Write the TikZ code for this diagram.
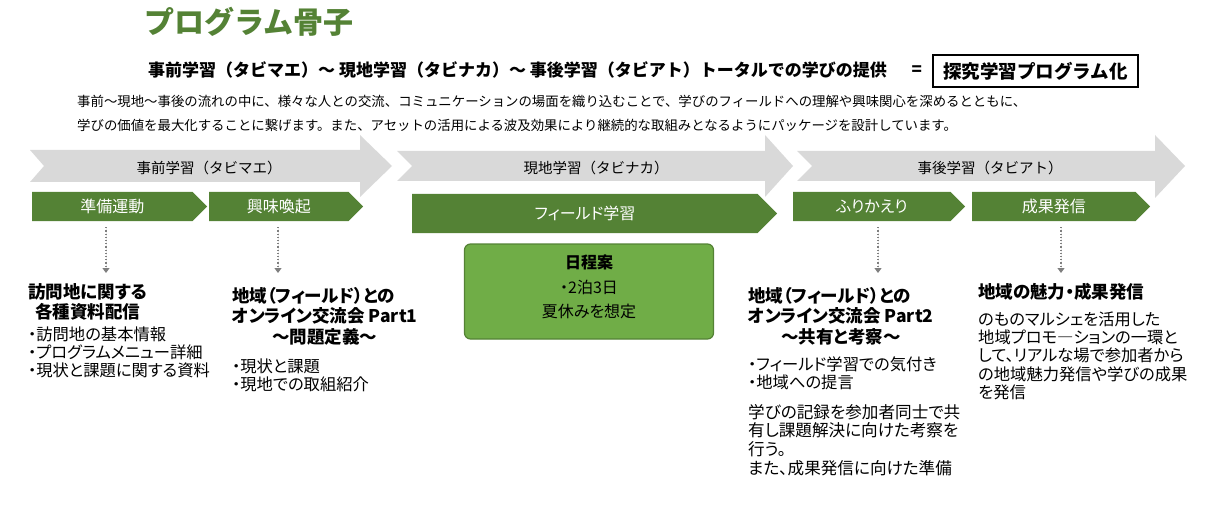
\documentclass[tikz,border=0pt]{standalone}
\usepackage{fontspec}
\setmainfont{Noto Sans CJK JP}
\newfontfamily\prop{Noto Sans CJK JP}[RawFeature=+palt]
\usetikzlibrary{arrows.meta,positioning,shapes.symbols}

\definecolor{leafgreen}{HTML}{548235}
\definecolor{lightleaf}{HTML}{70AD47}
\definecolor{stagegray}{HTML}{D9D9D9}
\definecolor{dotgray}{HTML}{7F7F7F}
\newcommand{\fs}[2]{\fontsize{#1}{#2}\selectfont}
% lines set on a fixed baselineskip; \hfil in front of a line centres it
\newcommand{\textlines}[1]{\vtop{\let\\\cr\halign{##\hfil\cr#1\crcr}}}

\begin{document}
\begin{tikzpicture}[x=1pt, y=-1pt, >={Triangle[length=5pt,width=7pt]},
  stage/.style={fill=stagegray},
  stagelabel/.style={font=\fs{14.5}{16}, inner sep=0pt},
  stepbar/.style={signal, signal to=east, anchor=west, fill=leafgreen, text=white, font=\prop\fs{16}{18}, inner sep=0pt, minimum height=29pt},
  dotarrow/.style={->, draw=dotgray, fill=dotgray, dotted, line width=1.2pt, shorten <=6pt},
  blocktitle/.style={anchor=base west, inner sep=0pt, font=\prop\fs{17.5}{20.5}\bfseries},
  blocktext/.style={anchor=base west, inner sep=0pt, font=\prop\fs{16.3}{18.3}}]
  \useasboundingbox (0,0) rectangle (1212,505);

  % heading
  \node[anchor=base west, inner sep=0pt, text=leafgreen, font=\fs{30}{32}\bfseries] (title) at (144,34) {プログラム骨子};
  \node[anchor=base west, inner sep=0pt, font=\fs{17}{19}\bfseries] (sub) at (148,76.5) {事前学習（タビマエ）～ 現地学習（タビナカ）～ 事後学習（タビアト）トータルでの学びの提供};
  \node[draw, line width=1.5pt, inner sep=0pt, minimum width=205pt, minimum height=32pt, font=\fs{18.5}{20}\bfseries] (goal) at (1035.5,71) {探究学習プログラム化};
  \node[left=10pt of goal, inner sep=0pt, font=\fs{17}{19}\bfseries] (eq) {=};
  \node[anchor=base west, inner sep=0pt, font=\fs{13.4}{24}] (intro) at (77,107) {\textlines{事前～現地～事後の流れの中に、様々な人との交流、コミュニケーションの場面を織り込むことで、学びのフィールドへの理解や興味関心を深めるとともに、\\学びの価値を最大化することに繋げます。また、アセットの活用による波及効果により継続的な取組みとなるようにパッケージを設計しています。}};

  % stages
  \fill[stage] (30,150) -- (360,150) -- (360,135) -- (392,166) -- (360,197) -- (360,182) -- (30,182) -- (44,166) -- cycle;
  \fill[stage] (397,151) -- (765,151) -- (765,135) -- (793,166) -- (765,197) -- (765,181) -- (397,181) -- (412,166) -- cycle;
  \fill[stage] (797,151) -- (1155,151) -- (1155,135) -- (1185,166) -- (1155,198) -- (1155,181) -- (797,181) -- (812,166) -- cycle;
  \node[stagelabel] (pre) at (209,168) {事前学習（タビマエ）};
  \node[stagelabel] (onsite) at (596,168) {現地学習（タビナカ）};
  \node[stagelabel] (post) at (990,168) {事後学習（タビアト）};

  % steps
  \node[stepbar, minimum width=175pt] (junbi) at (32,206.5) {準備運動};
  \node[stepbar, minimum width=154pt] (kyomi) at (209,206.5) {興味喚起};
  \node[stepbar, minimum width=365pt, minimum height=39pt] (field) at (412,213.5) {フィールド学習};
  \node[stepbar, minimum width=172pt] (furikaeri) at (793,206.5) {ふりかえり};
  \node[stepbar, minimum width=178pt] (seika) at (972,206.5) {成果発信};

  % schedule
  \node[draw=leafgreen, fill=lightleaf, rounded corners=6pt, line width=1.2pt, minimum width=249pt, minimum height=95pt] (plan) at (589,291.5) {};
  \node[anchor=base, inner sep=0pt, font=\prop\fs{16}{24.5}] (plantext) at (589,268.5) {\textlines{\hfil\textbf{日程案}\\\hfil・2泊3日\\\hfil 夏休みを想定}};

  % text blocks
  \node[blocktitle, font=\prop\fs{17.5}{20}\bfseries] (visit) at (28,298.5) {\textlines{訪問地に関する\\\hfil 各種資料配信}};
  \node[blocktext] (visitlist) at (28,340) {\textlines{・訪問地の基本情報\\・プログラムメニュー詳細\\・現状と課題に関する資料}};

  \node[blocktitle] (online1) at (232,302) {\textlines{地域（フィールド）との\\オンライン交流会 Part1\\\hfil～問題定義～}};
  \node[blocktext] (online1list) at (232,372.5) {\textlines{・現状と課題\\・現地での取組紹介}};

  \node[blocktitle] (online2) at (748,302) {\textlines{地域（フィールド）との\\オンライン交流会 Part2\\\hfil～共有と考察～}};
  \node[blocktext, font=\prop\fs{16.3}{18}] (online2list) at (748,370.5) {\textlines{・フィールド学習での気付き\\・地域への提言}};
  \node[blocktext, font=\prop\fs{16.6}{18.9}] (online2text) at (748,418) {\textlines{学びの記録を参加者同士で共\\有し課題解決に向けた考察を\\行う。\\また、成果発信に向けた準備}};

  \node[blocktitle] (appeal) at (978,298.5) {地域の魅力・成果発信};
  \node[blocktext, font=\prop\fs{16.3}{18.35}] (appealtext) at (978,325) {\textlines{のものマルシェを活用した\\地域プロモ―ションの一環と\\して、リアルな場で参加者から\\の地域魅力発信や学びの成果\\を発信}};

  % dotted connectors
  \coordinate (a1) at (106,273);
  \coordinate (a2) at (278,273);
  \coordinate (a3) at (878,273);
  \coordinate (a4) at (1061,273);
  \draw[dotarrow] (junbi.south -| a1) -- (a1);
  \draw[dotarrow] (kyomi.south -| a2) -- (a2);
  \draw[dotarrow] (furikaeri.south -| a3) -- (a3);
  \draw[dotarrow] (seika.south -| a4) -- (a4);
\end{tikzpicture}
\end{document}
